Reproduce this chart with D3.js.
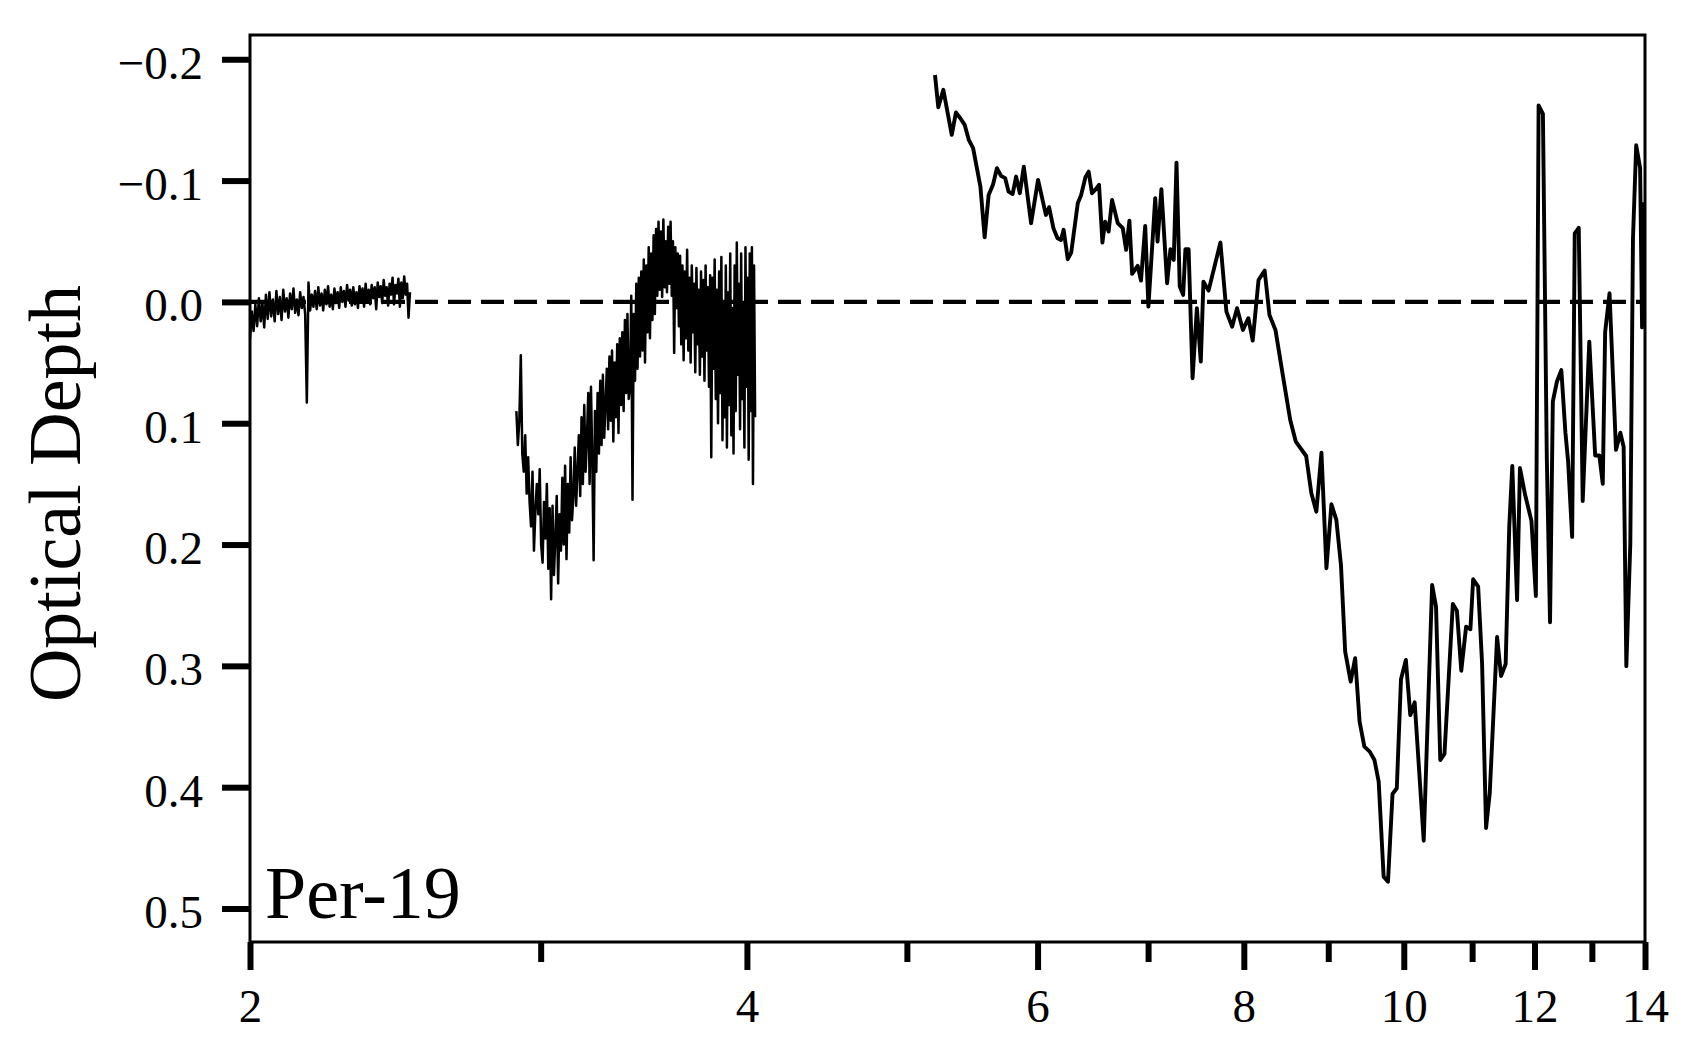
<!DOCTYPE html>
<html><head><meta charset="utf-8">
<script src="https://cdn.jsdelivr.net/npm/d3@7"></script>
<style>
body{margin:0;background:#fff}
svg{display:block}
text{font-family:"Liberation Serif","Times New Roman",serif;fill:#000}
</style>
</head><body>
<svg id="chart" width="1699" height="1062"></svg>
<script>
// ---- tick labels / text ----
const xMajorTicks = [2, 4, 6, 8, 10, 12, 14];
const xMinorTicks = [3, 5, 7, 9, 11, 13];
const yTicks = [-0.2, -0.1, 0.0, 0.1, 0.2, 0.3, 0.4, 0.5];
const yLabel = "Optical Depth";
const panelLabel = "Per-19";
const baselineValue = [0];

// ---- segment 1 (2.0 - 2.5 µm) ----
const wl1 = [2.000,2.005,2.010,2.015,2.020,2.025,2.030,2.035,2.040,2.045,
2.050,2.055,2.060,2.065,2.070,2.075,2.080,2.085,2.090,2.095,
2.100,2.105,2.110,2.115,2.120,2.125,2.130,2.135,2.140,2.145,
2.150,2.155,2.160,2.165,2.170,2.175,2.180,2.185,2.190,2.195,
2.200,2.205,2.210,2.215,2.220,2.225,2.230,2.235,2.240,2.245,
2.250,2.255,2.260,2.265,2.270,2.275,2.280,2.285,2.290,2.295,
2.300,2.305,2.310,2.315,2.320,2.325,2.330,2.335,2.340,2.345,
2.350,2.355,2.360,2.365,2.370,2.375,2.380,2.385,2.390,2.395,
2.400,2.405,2.410,2.415,2.420,2.425,2.430,2.435,2.440,2.445,
2.450,2.455,2.460,2.465,2.470,2.475,2.480,2.485,2.490,2.495,
2.500];
const od1 = [0.030,0.008,0.024,0.002,0.020,-0.003,0.016,0.001,0.021,-0.006,
0.014,-0.008,0.012,-0.002,0.016,-0.009,0.010,-0.004,0.015,-0.010,
0.008,-0.003,0.013,-0.007,0.006,-0.011,0.009,-0.002,0.011,-0.008,
0.005,-0.004,0.010,0.083,-0.016,0.007,-0.006,0.004,-0.009,0.006,
-0.012,0.003,-0.007,0.007,-0.010,0.002,-0.013,0.004,-0.006,0.006,
-0.011,0.001,-0.008,0.005,-0.012,0.000,-0.009,0.004,-0.014,-0.001,
-0.010,0.003,-0.012,0.002,-0.008,0.005,-0.013,-0.002,-0.011,0.004,
-0.015,0.000,-0.010,0.002,-0.014,-0.003,-0.012,0.006,-0.016,-0.004,
-0.013,0.001,-0.018,-0.005,-0.012,0.003,-0.015,-0.006,-0.020,0.002,
-0.014,-0.007,-0.019,0.004,-0.016,-0.003,-0.021,-0.006,-0.015,0.013,
-0.008];

// ---- segment 2 (2.9 - 4.05 µm) ----
const wl2 = [2.900,2.906,2.912,2.918,2.924,2.930,2.936,2.942,2.948,2.954,
2.960,2.966,2.972,2.978,2.984,2.990,2.996,3.002,3.008,3.014,
3.020,3.026,3.032,3.038,3.044,3.050,3.056,3.062,3.068,3.074,
3.080,3.086,3.092,3.098,3.104,3.110,3.116,3.122,3.128,3.134,
3.140,3.146,3.152,3.158,3.164,3.170,3.176,3.182,3.188,3.194,
3.200,3.206,3.212,3.218,3.224,3.230,3.236,3.242,3.248,3.254,
3.260,3.266,3.272,3.278,3.284,3.290,3.296,3.302,3.308,3.314,
3.320,3.326,3.332,3.338,3.344,3.350,3.356,3.362,3.368,3.374,
3.380,3.386,3.392,3.398,3.404,3.410,3.416,3.422,3.428,3.434,
3.440,3.446,3.452,3.458,3.464,3.470,3.476,3.482,3.488,3.494,
3.500,3.506,3.512,3.518,3.524,3.530,3.536,3.542,3.548,3.554,
3.560,3.566,3.572,3.578,3.584,3.590,3.596,3.602,3.608,3.614,
3.620,3.626,3.632,3.638,3.644,3.650,3.656,3.662,3.668,3.674,
3.680,3.686,3.692,3.698,3.704,3.710,3.716,3.722,3.728,3.734,
3.740,3.746,3.752,3.758,3.764,3.770,3.776,3.782,3.788,3.794,
3.800,3.806,3.812,3.818,3.824,3.830,3.836,3.842,3.848,3.854,
3.860,3.866,3.872,3.878,3.884,3.890,3.896,3.902,3.908,3.914,
3.920,3.926,3.932,3.938,3.944,3.950,3.956,3.962,3.968,3.974,
3.980,3.986,3.992,3.998,4.004,4.010,4.016,4.022,4.028,4.034,4.040,4.046];
const od2 = [0.090,0.118,0.098,0.044,0.125,0.140,0.110,0.158,0.128,0.165,
0.185,0.140,0.205,0.172,0.150,0.175,0.138,0.200,0.215,0.165,
0.195,0.150,0.220,0.170,0.245,0.168,0.225,0.195,0.160,0.232,
0.175,0.205,0.145,0.200,0.135,0.212,0.150,0.190,0.128,0.180,
0.160,0.120,0.168,0.140,0.110,0.160,0.095,0.150,0.085,0.140,
0.112,0.075,0.150,0.070,0.130,0.213,0.090,0.140,0.075,0.125,
0.065,0.118,0.060,0.112,0.085,0.055,0.105,0.045,0.098,0.040,
0.115,0.050,0.095,0.035,0.108,0.030,0.085,0.025,0.090,0.015,
0.075,0.010,0.080,0.070,-0.005,0.163,0.010,0.065,-0.015,0.055,
-0.020,0.045,-0.025,0.040,-0.035,0.050,-0.030,0.025,-0.045,0.030,
-0.040,0.015,-0.055,0.010,-0.060,-0.005,-0.066,-0.010,-0.058,-0.004,
-0.068,-0.012,-0.050,-0.008,-0.062,-0.015,-0.066,-0.005,-0.050,0.042,
-0.045,0.005,-0.040,0.020,-0.038,0.035,-0.030,0.048,-0.025,0.030,
-0.043,0.040,-0.020,0.050,-0.030,0.025,-0.015,0.058,-0.028,0.035,
-0.010,0.060,-0.025,0.045,-0.018,0.065,-0.030,0.040,-0.012,0.070,
-0.022,0.128,-0.020,0.055,-0.035,0.080,-0.010,0.100,-0.025,0.075,
-0.037,0.114,0.000,0.095,-0.030,0.120,-0.008,0.085,-0.040,0.110,
0.005,0.125,-0.030,0.090,-0.049,0.060,-0.015,0.105,-0.040,0.080,
0.000,0.120,-0.045,0.070,-0.020,0.130,-0.040,0.090,-0.045,0.150,-0.030,0.095];

// ---- segment 3 (5.2 - 14 µm) ----
const wl3 = [5.200,5.224,5.261,5.323,5.354,5.387,5.420,5.451,5.484,5.540,
5.573,5.604,5.638,5.669,5.702,5.735,5.762,5.795,5.823,5.853,
5.886,5.946,6.004,6.070,6.097,6.134,6.169,6.199,6.222,6.258,
6.288,6.346,6.376,6.414,6.443,6.473,6.502,6.537,6.568,6.593,
6.625,6.657,6.710,6.757,6.789,6.820,6.846,6.899,6.931,6.972,
7.003,7.070,7.093,7.131,7.188,7.222,7.255,7.283,7.316,7.351,
7.374,7.407,7.448,7.493,7.534,7.562,7.616,7.743,7.808,7.870,
7.925,7.990,8.051,8.100,8.166,8.236,8.291,8.361,8.450,8.535,
8.602,8.727,8.790,8.852,8.915,8.977,9.040,9.102,9.161,9.215,
9.286,9.344,9.402,9.465,9.536,9.599,9.656,9.723,9.782,9.844,
9.903,9.961,10.029,10.091,10.153,10.282,10.403,10.460,10.522,10.584,
10.708,10.769,10.835,10.908,10.974,11.016,11.093,11.154,11.216,11.274,
11.390,11.453,11.527,11.585,11.634,11.712,11.759,11.841,11.949,12.023,
12.069,12.142,12.208,12.263,12.311,12.382,12.458,12.529,12.576,12.647,
12.693,12.764,12.835,12.953,13.060,13.136,13.199,13.243,13.324,13.445,
13.527,13.589,13.640,13.716,13.767,13.829,13.905,13.943,13.981];
const od3 = [-0.187,-0.1605,-0.1748,-0.1377,-0.1561,-0.1514,-0.1459,-0.1336,-0.1267,-0.0951,
-0.0533,-0.0882,-0.0965,-0.1102,-0.1039,-0.1020,-0.0909,-0.0890,-0.1033,-0.0896,
-0.1115,-0.0649,-0.1006,-0.0717,-0.0781,-0.0608,-0.0525,-0.0511,-0.0594,-0.0352,
-0.0406,-0.0814,-0.0882,-0.1028,-0.1074,-0.0896,-0.0923,-0.0965,-0.0489,-0.0662,
-0.0580,-0.0841,-0.0649,-0.0608,-0.0429,-0.0670,-0.0231,-0.0297,-0.0176,-0.0627,
0.0039,-0.0855,-0.0497,-0.0929,-0.0154,-0.0434,-0.0346,-0.1148,-0.0126,-0.0058,
-0.0434,-0.0434,0.0629,0.0052,0.0492,-0.0167,-0.0093,-0.0489,0.0080,0.0204,
0.0052,0.0231,0.0134,0.0319,-0.0181,-0.0258,0.0107,0.0231,0.0616,0.0973,
0.1152,0.1270,0.1577,0.1729,0.1242,0.2195,0.1668,0.1797,0.2168,0.2883,
0.3130,0.2937,0.3460,0.3666,0.3707,0.3776,0.3955,0.4738,0.4779,0.4056,
0.4009,0.3110,0.2951,0.3405,0.3300,0.4441,0.2333,0.2512,0.3776,0.3726,
0.2490,0.2545,0.3040,0.2677,0.2698,0.2286,0.2347,0.2979,0.4336,0.4048,
0.2762,0.3083,0.2984,0.1852,0.1352,0.2457,0.1369,0.1583,0.1805,0.2424,
-0.1620,-0.1549,0.1289,0.2641,0.0820,0.0656,0.0562,0.1078,0.1313,0.1937,
-0.0564,-0.0611,0.1641,0.0327,0.1266,0.1266,0.1500,0.0248,-0.0071,0.1219,
0.1078,0.1195,0.3002,0.1993,-0.0517,-0.1291,-0.1104,0.0210,-0.0822];

// ---- layout ----
const W = 1699, H = 1062;
const plot = {left: 250, right: 1645, top: 35, bottom: 942};

const svg = d3.select("#chart");
svg.append("rect").attr("width", W).attr("height", H).attr("fill", "#fff");

const x = d3.scaleLog().domain([2, 14]).range([plot.left, plot.right]);
const y = d3.scaleLinear().domain([-0.22, 0.5276]).range([plot.top, plot.bottom]);

svg.append("clipPath").attr("id", "clip").append("rect")
  .attr("x", plot.left).attr("y", plot.top)
  .attr("width", plot.right - plot.left).attr("height", plot.bottom - plot.top);

const g = svg.append("g").attr("clip-path", "url(#clip)");

// zero reference line
g.selectAll("line.zero").data(baselineValue).enter().append("line")
  .attr("class", "zero")
  .attr("x1", x(2)).attr("x2", x(14))
  .attr("y1", d => y(d)).attr("y2", d => y(d))
  .attr("stroke", "#000").attr("stroke-width", 4.4)
  .attr("stroke-dasharray", "23,10");

const line = d3.line().x(d => x(d[0])).y(d => y(d[1]));

const series = [
  {data: d3.zip(wl1, od1), w: 2.5},
  {data: d3.zip(wl2, od2), w: 2.5},
  {data: d3.zip(wl3, od3), w: 3.9}
];
g.selectAll("path.spec").data(series).enter().append("path")
  .attr("class", "spec")
  .attr("d", d => line(d.data))
  .attr("fill", "none").attr("stroke", "#000")
  .attr("stroke-width", d => d.w)
  .attr("stroke-linejoin", "round");

// axes
const yAxis = d3.axisLeft(y).tickValues(yTicks).tickSize(28).tickPadding(19)
  .tickFormat(d3.format(".1f"));
const gy = svg.append("g").attr("transform", `translate(${plot.left},0)`).call(yAxis);
gy.select(".domain").remove();
gy.selectAll(".tick line").attr("stroke", "#000").attr("stroke-width", 6);
gy.selectAll(".tick text").attr("font-size", 47).attr("dy", "0.4em")
  .style("font-family", '"Liberation Serif","Times New Roman",serif');

const xAxis = d3.axisBottom(x).tickValues(xMajorTicks).tickSize(28)
  .tickFormat(d3.format("d"));
const gx = svg.append("g").attr("transform", `translate(0,${plot.bottom})`).call(xAxis);
gx.select(".domain").remove();
gx.selectAll(".tick line").attr("stroke", "#000").attr("stroke-width", 6);
gx.selectAll(".tick text").attr("font-size", 47).attr("y", 80).attr("dy", 0)
  .style("font-family", '"Liberation Serif","Times New Roman",serif');

const xMinor = d3.axisBottom(x).tickValues(xMinorTicks).tickSize(20).tickFormat("");
const gxm = svg.append("g").attr("transform", `translate(0,${plot.bottom})`).call(xMinor);
gxm.select(".domain").remove();
gxm.selectAll(".tick line").attr("stroke", "#000").attr("stroke-width", 6);

// frame
svg.append("rect")
  .attr("x", plot.left).attr("y", plot.top)
  .attr("width", plot.right - plot.left).attr("height", plot.bottom - plot.top)
  .attr("fill", "none").attr("stroke", "#000").attr("stroke-width", 3);

// labels
svg.append("text")
  .attr("transform", `translate(80,${(plot.top + plot.bottom) / 2 + 5}) rotate(-90)`)
  .attr("text-anchor", "middle").attr("font-size", 74)
  .text(yLabel);

svg.append("text")
  .attr("x", 265).attr("y", 918).attr("font-size", 74)
  .text(panelLabel);
</script>
</body></html>
